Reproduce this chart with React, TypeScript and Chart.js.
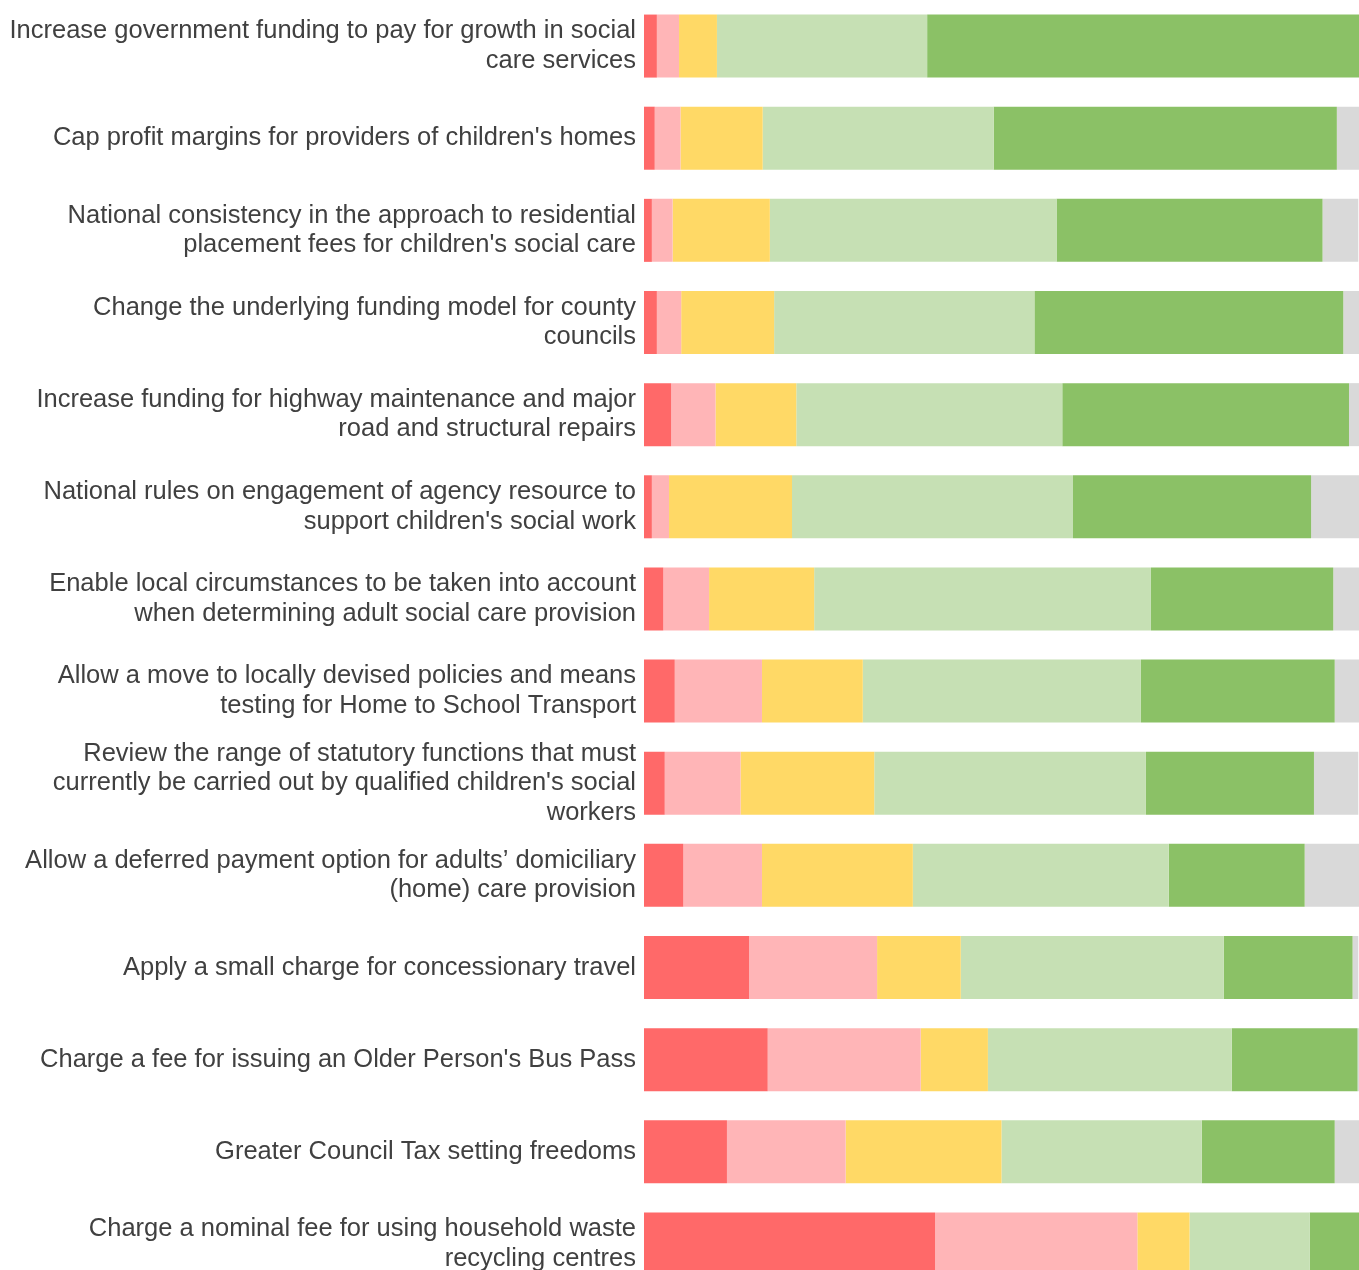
import React, { useEffect, useRef } from "react";
import { Chart, registerables } from "chart.js";

Chart.register(...registerables);

const categories: (string | string[])[] = [
  ["Increase government funding to pay for growth in social", "care services"],
  "Cap profit margins for providers of children's homes",
  ["National consistency in the approach to residential", "placement fees for children's social care"],
  ["Change the underlying funding model for county", "councils"],
  ["Increase funding for highway maintenance and major", "road and structural repairs"],
  ["National rules on engagement of agency resource to", "support children's social work"],
  ["Enable local circumstances to be taken into account", "when determining adult social care provision"],
  ["Allow a move to locally devised policies and means", "testing for Home to School Transport"],
  ["Review the range of statutory functions that must", "currently be carried out by qualified children's social", "workers"],
  ["Allow a deferred payment option for adults\u2019 domiciliary", "(home) care provision"],
  "Apply a small charge for concessionary travel",
  "Charge a fee for issuing an Older Person's Bus Pass",
  "Greater Council Tax setting freedoms",
  ["Charge a nominal fee for using household waste", "recycling centres"],
];

const stronglyDisagree = [1.8, 1.5, 1.1, 1.8, 3.8, 1.1, 2.7, 4.3, 2.9, 5.5, 14.7, 17.3, 11.6, 40.7];
const disagree = [3.1, 3.6, 2.9, 3.4, 6.2, 2.4, 6.4, 12.2, 10.6, 11.0, 17.9, 21.4, 16.6, 28.3];
const neutral = [5.3, 11.5, 13.6, 13.0, 11.3, 17.2, 14.7, 14.1, 18.7, 21.1, 11.7, 9.4, 21.8, 7.3];
const agree = [29.4, 32.3, 40.1, 36.4, 37.2, 39.3, 47.1, 38.9, 38.0, 35.8, 36.8, 34.1, 28.0, 16.8];
const stronglyAgree = [60.4, 48.0, 37.2, 43.2, 40.1, 33.3, 25.5, 27.1, 23.5, 19.0, 18.0, 17.6, 18.6, 7.0];
const dontKnow = [0, 3.1, 5.0, 2.2, 1.4, 6.7, 3.6, 3.4, 6.2, 7.6, 0.8, 0.2, 3.4, 0];

const seriesNames = ["Strongly disagree", "Disagree", "Neither", "Agree", "Strongly agree", "Don't know"];
const seriesColors = ["#FF6969", "#FFB5B7", "#FFD966", "#C6E0B4", "#8BC166", "#D9D9D9"];

export default function App() {
  const ref = useRef<HTMLCanvasElement | null>(null);
  useEffect(() => {
    if (!ref.current) return;
    const values = [stronglyDisagree, disagree, neutral, agree, stronglyAgree, dontKnow];
    const chart = new Chart(ref.current, {
      type: "bar",
      data: {
        labels: categories,
        datasets: values.map((v, i) => ({
          label: seriesNames[i],
          data: v,
          backgroundColor: seriesColors[i],
          borderWidth: 0,
          categoryPercentage: 1,
          barPercentage: 0.684,
        })),
      },
      options: {
        indexAxis: "y",
        animation: false,
        responsive: false,
        layout: { padding: 0 },
        plugins: { legend: { display: false }, title: { display: false }, tooltip: { enabled: false } },
        scales: {
          x: { stacked: true, min: 0, max: 100, display: false },
          y: {
            stacked: true,
            border: { display: false },
            grid: { display: false, drawTicks: false },
            ticks: {
              padding: 8,
              color: "#404040",
              font: { family: "'Liberation Sans', Arial, sans-serif", size: 25.5, lineHeight: 1.16 },
            },
            afterFit: (scale: any) => {
              scale.width = 644;
              scale.paddingTop = 0;
              scale.paddingBottom = 0;
            },
          },
        },
      },
    });
    return () => chart.destroy();
  }, []);
  return (
    <div style={{ position: "fixed", left: 0, top: 0, width: 1359, height: 1290 }}>
      <canvas ref={ref} width={1359} height={1290} style={{ width: 1359, height: 1290, display: "block" }} />
    </div>
  );
}
